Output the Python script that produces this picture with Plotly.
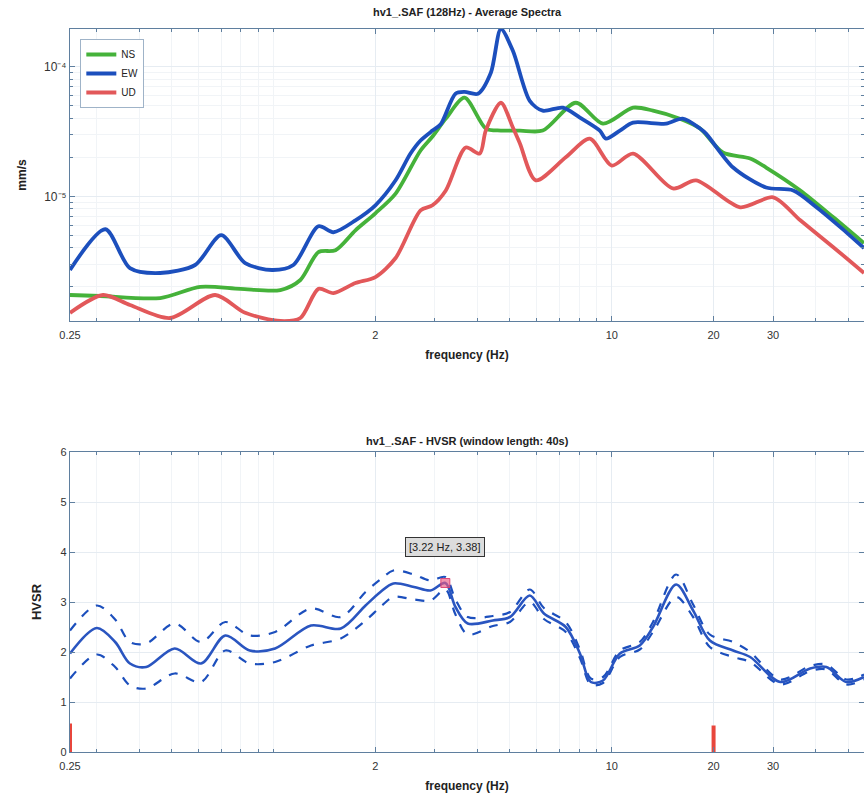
import numpy as np
import plotly.graph_objects as go

# ---------------- data: average spectra (mm/s) ----------------
ns_freq = [0.25, 0.307, 0.462, 0.607, 0.797, 1.047, 1.2, 1.357, 1.524, 1.746, 2.0, 2.295, 2.72, 2.95,
           3.23, 3.67, 4.24, 4.7, 5.35, 6.25, 7.83, 9.42, 11.56, 13.24, 15.9, 18.24, 21.3, 25.66,
           28.6, 36.1, 45.2, 55.7]
ns_amp = [1.73e-6, 1.70e-6, 1.64e-6, 2.0e-6, 1.93e-6, 1.89e-6, 2.26e-6, 3.71e-6, 3.84e-6, 5.47e-6,
          7.40e-6, 1.05e-5, 2.26e-5, 2.9e-5, 3.98e-5, 5.78e-5, 3.34e-5, 3.22e-5, 3.22e-5, 3.22e-5,
          5.28e-5, 3.64e-5, 4.84e-5, 4.59e-5, 3.98e-5, 3.34e-5, 2.18e-5, 1.96e-5, 1.67e-5, 1.11e-5,
          6.89e-6, 4.35e-6]

ew_freq = [0.25, 0.318, 0.376, 0.462, 0.586, 0.70, 0.824, 0.99, 1.144, 1.357, 1.503, 1.746, 2.0,
           2.295, 2.54, 2.72, 2.95, 3.12, 3.45, 3.67, 4.02, 4.39, 4.70, 5.10, 5.72, 6.25, 7.17,
           8.05, 9.22, 9.61, 10.57, 11.56, 14.48, 16.2, 18.24, 19.0, 22.85, 28.6, 34.4, 40.3,
           47.4, 55.7]
ew_amp = [2.70e-6, 5.57e-6, 2.79e-6, 2.56e-6, 2.95e-6, 5.01e-6, 3.05e-6, 2.70e-6, 2.95e-6, 5.87e-6,
          5.28e-6, 6.53e-6, 8.53e-6, 1.33e-5, 2.14e-5, 2.7e-5, 3.22e-5, 3.6e-5, 6.2e-5, 6.4e-5,
          6.2e-5, 9.0e-5, 1.96e-4, 1.33e-4, 5.47e-5, 4.59e-5, 4.84e-5, 4.06e-5, 3.22e-5, 2.79e-5,
          3.22e-5, 3.71e-5, 3.64e-5, 3.98e-5, 3.34e-5, 3.05e-5, 1.67e-5, 1.17e-5, 1.11e-5, 8.23e-6,
          5.78e-6, 3.98e-6]

ud_freq = [0.25, 0.313, 0.376, 0.494, 0.672, 0.824, 1.047, 1.2, 1.357, 1.503, 1.746, 2.0, 2.295,
           2.72, 2.95, 3.23, 3.70, 4.07, 4.24, 4.70, 5.10, 5.35, 5.96, 7.31, 8.61, 10.0, 11.56,
           15.17, 17.75, 23.97, 30.0, 36.1, 45.2, 55.7]
ud_amp = [1.26e-6, 1.73e-6, 1.45e-6, 1.15e-6, 1.73e-6, 1.26e-6, 1.09e-6, 1.15e-6, 1.93e-6, 1.79e-6,
          2.14e-6, 2.38e-6, 3.34e-6, 7.80e-6, 8.53e-6, 1.11e-5, 2.38e-5, 2.14e-5, 3.22e-5, 5.28e-5,
          3.40e-5, 2.56e-5, 1.33e-5, 2.0e-5, 2.79e-5, 1.73e-5, 2.14e-5, 1.15e-5, 1.33e-5, 8.23e-6,
          9.83e-6, 6.53e-6, 4.05e-6, 2.56e-6]

# ---------------- data: HVSR ----------------
hv_freq = [0.25, 0.30, 0.34, 0.376, 0.42, 0.51, 0.61, 0.72, 0.85, 1.01, 1.29, 1.58, 1.87, 2.07,
           2.26, 2.6, 2.91, 3.22, 3.45, 3.75, 4.45, 5.0, 5.72, 6.3, 7.31, 8.05, 8.67, 9.42, 10.57,
           12.1, 13.24, 15.5, 17.4, 19.5, 22.85, 25.66, 31.5, 38.6, 43.1, 49.4, 55.7]
hv_mean = [1.97, 2.48, 2.2, 1.77, 1.7, 2.07, 1.77, 2.33, 2.03, 2.07, 2.53, 2.47, 2.93, 3.2,
           3.37, 3.3, 3.23, 3.38, 2.9, 2.57, 2.63, 2.7, 3.13, 2.77, 2.5, 1.97, 1.4, 1.43, 1.97,
           2.13, 2.5, 3.35, 2.83, 2.23, 2.03, 1.9, 1.4, 1.67, 1.7, 1.4, 1.5]
hv_upper = [2.43, 2.93, 2.65, 2.2, 2.17, 2.57, 2.2, 2.6, 2.33, 2.4, 2.87, 2.7, 3.2, 3.45,
            3.63, 3.55, 3.43, 3.5, 3.05, 2.7, 2.72, 2.8, 3.25, 2.88, 2.6, 2.05, 1.47, 1.5, 2.03,
            2.2, 2.6, 3.55, 2.95, 2.35, 2.2, 2.0, 1.45, 1.72, 1.75, 1.45, 1.55]
hv_lower = [1.47, 1.95, 1.7, 1.33, 1.27, 1.57, 1.4, 2.03, 1.77, 1.8, 2.13, 2.27, 2.63, 2.9,
            3.1, 3.05, 3.03, 3.25, 2.75, 2.35, 2.52, 2.6, 3.0, 2.66, 2.4, 1.88, 1.35, 1.38, 1.9,
            2.05, 2.4, 3.1, 2.7, 2.1, 1.9, 1.8, 1.35, 1.62, 1.65, 1.35, 1.45]

peak_f = 3.22
peak_v = 3.38

# red bars at bottom (peak distribution)
bar_freq = [0.25, 20.0]
bar_val = [0.57, 0.53]

# tick labels
x_tickvals = [0.25, 2, 10, 20, 30]
x_ticktext = ["0.25", "2", "10", "20", "30"]
y1_tickvals = [1e-5, 1e-4]
y1_ticktext = ["10\u207b\u2075", "10\u207b\u2074"]
y2_tickvals = [0, 1, 2, 3, 4, 5, 6]

# ---------------- figure ----------------
W, H = 864, 798
L_M = 70
def py(px):
    return 1 - px / H

GREEN = "#45b23a"
BLUE = "#1c4fbd"
RED = "#e2585a"
AX = "#5f7f9f"
GRID = "#e6ecf2"
MGRID = "#f1f4f7"
TXT = "#333333"
FONT = "Liberation Sans, Arial, sans-serif"

fig = go.Figure()

for name, f, a, c in [("NS", ns_freq, ns_amp, GREEN), ("EW", ew_freq, ew_amp, BLUE),
                      ("UD", ud_freq, ud_amp, RED)]:
    fig.add_trace(go.Scatter(x=f, y=a, name=name, mode="lines",
                             line=dict(color=c, width=3.8, shape="spline", smoothing=0.8),
                             xaxis="x", yaxis="y"))

# HVSR
fig.add_trace(go.Scatter(x=hv_freq, y=hv_upper, mode="lines", showlegend=False,
                         line=dict(color=BLUE, width=2.2, dash="dash", shape="spline", smoothing=0.9),
                         xaxis="x2", yaxis="y2"))
fig.add_trace(go.Scatter(x=hv_freq, y=hv_lower, mode="lines", showlegend=False,
                         line=dict(color=BLUE, width=2.2, dash="dash", shape="spline", smoothing=0.9),
                         xaxis="x2", yaxis="y2"))
fig.add_trace(go.Scatter(x=hv_freq, y=hv_mean, mode="lines", showlegend=False,
                         line=dict(color="#2a55c0", width=2.6, shape="spline", smoothing=0.9),
                         xaxis="x2", yaxis="y2"))

# red bars
bx, by = [], []
for f, v in zip(bar_freq, bar_val):
    bx += [f, f, None]
    by += [0, v, None]
fig.add_trace(go.Scatter(x=bx, y=by, mode="lines", showlegend=False,
                         line=dict(color="#e8463c", width=4), xaxis="x2", yaxis="y2"))

# peak marker
fig.add_trace(go.Scatter(x=[peak_f], y=[peak_v], mode="markers", showlegend=False,
                         marker=dict(symbol="square", size=9, color="rgba(235,90,130,0.65)",
                                     line=dict(color="rgba(220,60,110,0.9)", width=1)),
                         xaxis="x2", yaxis="y2"))

xmin, xmax = np.log10(0.25), np.log10(55.7)
x_minor = [0.3, 0.4, 0.5, 0.6, 0.7, 0.8, 0.9, 1, 3, 4, 5, 6, 7, 8, 9, 40, 50]
y_minor = [m * 10.0 ** e for e in (-6, -5) for m in range(2, 10)] + [2e-4]

common_x = dict(type="log", range=[xmin, xmax], tickmode="array", tickvals=x_tickvals,
                ticktext=x_ticktext, ticks="inside", ticklen=5, tickcolor=AX, showline=True,
                linecolor=AX, linewidth=1.2, mirror="ticks", showgrid=True, gridcolor=GRID,
                gridwidth=1, zeroline=False, automargin=False, ticklabelstandoff=4,
                tickfont=dict(size=11, color=TXT, family=FONT),
                minor=dict(tickvals=x_minor, ticks="inside", ticklen=3, tickcolor=AX,
                           showgrid=True, gridcolor=MGRID, gridwidth=1),
                title=dict(text="<b>frequency (Hz)</b>", font=dict(size=12, color="#222", family=FONT),
                           standoff=10))

fig.update_layout(
    width=W, height=H,
    margin=dict(l=L_M, r=0, t=0, b=0),
    paper_bgcolor="white", plot_bgcolor="white",
    font=dict(family=FONT, color=TXT),
    xaxis=dict(domain=[0, 1], anchor="y", **common_x),
    yaxis=dict(domain=[py(321), py(29)], anchor="x", type="log",
               range=[np.log10(1.09e-6), np.log10(1.96e-4)],
               tickmode="array", tickvals=y1_tickvals, ticktext=y1_ticktext,
               ticks="inside", ticklen=5, tickcolor=AX, showline=True, linecolor=AX,
               linewidth=1.2, mirror="ticks", showgrid=True, gridcolor=GRID, zeroline=False,
               automargin=False, tickfont=dict(size=12, color=TXT, family=FONT),
               minor=dict(tickvals=y_minor, ticks="inside", ticklen=3, tickcolor=AX,
                          showgrid=True, gridcolor=MGRID),
               title=dict(text="<b>mm/s</b>", font=dict(size=12, color="#222", family=FONT),
                          standoff=14)),
    xaxis2=dict(domain=[0, 1], anchor="y2", **common_x),
    yaxis2=dict(domain=[py(752), py(452)], anchor="x2", range=[0, 6],
                tickmode="array", tickvals=y2_tickvals,
                ticks="inside", ticklen=5, tickcolor=AX, showline=True, linecolor=AX,
                linewidth=1.2, mirror="ticks", showgrid=True, gridcolor=GRID, zeroline=False,
                automargin=False, tickfont=dict(size=11, color=TXT, family=FONT),
                title=dict(text="<b>HVSR</b>", font=dict(size=13, color="#222", family=FONT),
                           standoff=16)),
    legend=dict(x=0.013, y=py(39), xanchor="left", yanchor="top",
                bgcolor="white", bordercolor="#9fb3c8", borderwidth=1,
                font=dict(size=10, color="#222", family=FONT), tracegroupgap=0,
                itemwidth=30),
    showlegend=True,
)

fig.add_annotation(text="<b>hv1_.SAF (128Hz) - Average Spectra</b>", xref="paper", yref="paper",
                   x=0.5, y=py(12), xanchor="center", yanchor="middle", showarrow=False,
                   font=dict(size=11, color="#222", family=FONT))
fig.add_annotation(text="<b>hv1_.SAF - HVSR (window length: 40s)</b>", xref="paper", yref="paper",
                   x=0.5, y=py(441), xanchor="center", yanchor="middle", showarrow=False,
                   font=dict(size=11, color="#222", family=FONT))
fig.add_annotation(text="[%.2f Hz, %.2f]" % (peak_f, peak_v), xref="x2", yref="y2",
                   x=np.log10(peak_f), y=peak_v + 0.72, xanchor="center", yanchor="middle",
                   showarrow=False, bgcolor="#dcdcdc", bordercolor="#333", borderwidth=1,
                   borderpad=3, font=dict(size=11, color="#222", family=FONT))

fig.write_html("out.html")
